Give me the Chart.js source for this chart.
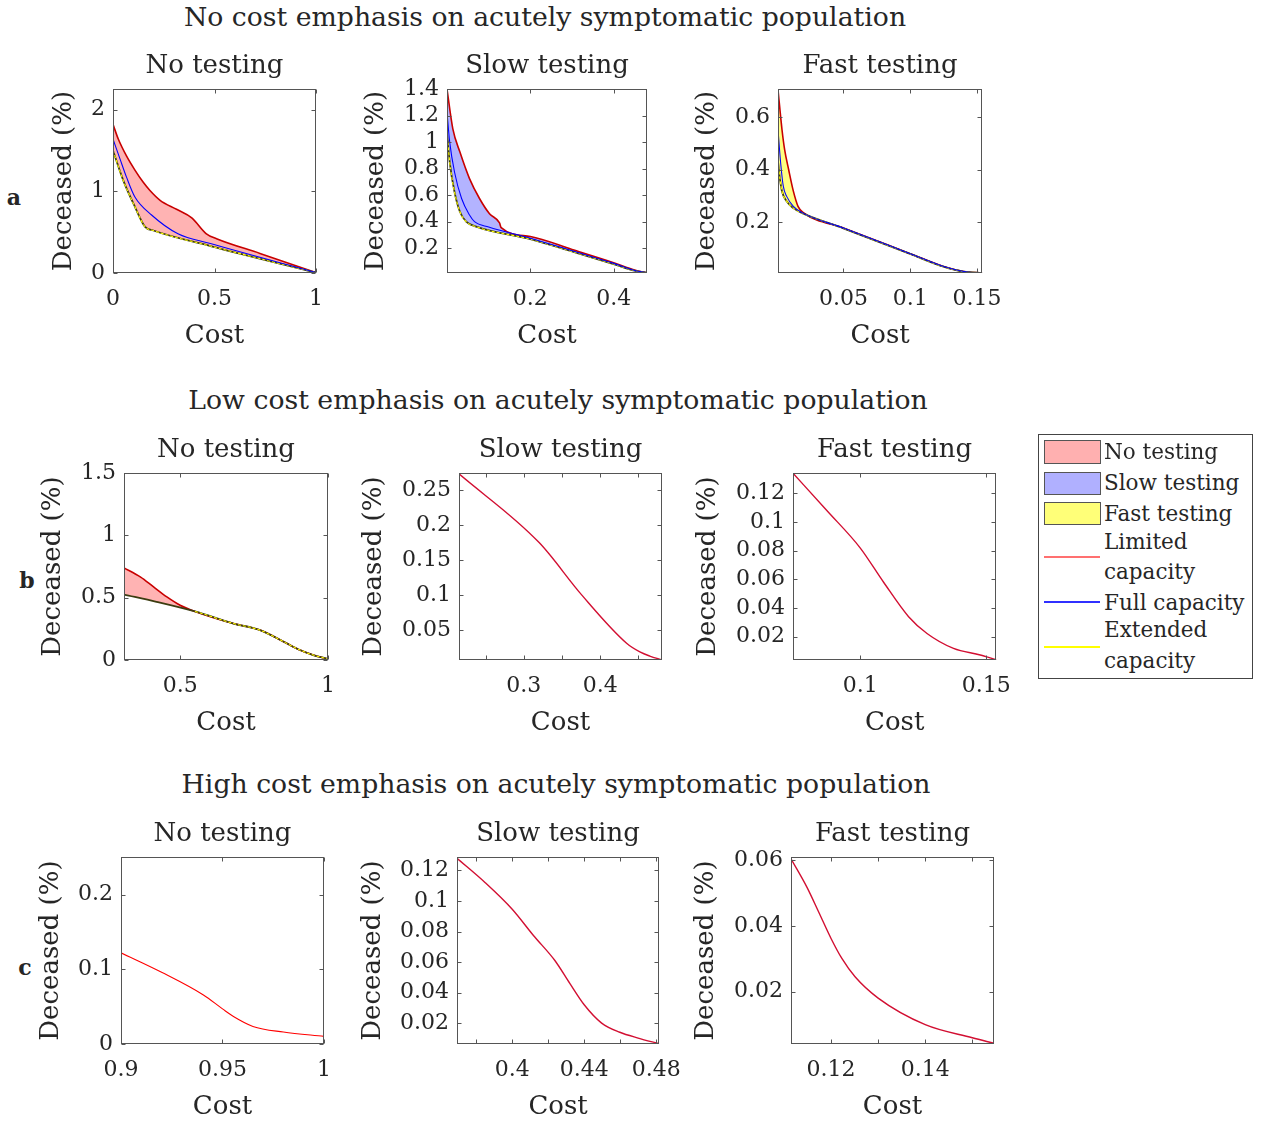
<!DOCTYPE html>
<html>
<head>
<meta charset="utf-8">
<script src="https://cdn.jsdelivr.net/npm/chart.js@4.4.0/dist/chart.umd.min.js"></script>
<style>
  body { margin: 0; background: #fff; width: 1261px; height: 1124px; position: relative; overflow: hidden;
         font-family: 'DejaVu Serif', serif; color: #262626; }
  canvas { position: absolute; }
  .t { position: absolute; transform: translate(-50%, -50%); white-space: nowrap; }
  .l { position: absolute; transform: translateY(-50%); white-space: nowrap; }
</style>
</head>
<body>
<script>
// ---- data: [cost, deceased %] ----
const a1Limited = [[0,1.82],[0.026,1.64],[0.067,1.43],[0.108,1.26],[0.149,1.11],[0.182,1.01],[0.232,0.89],[0.313,0.78],[0.388,0.675],[0.46,0.48],[0.51,0.42],[0.724,0.24],[1,0.005]];
const a1Full = [[0,1.64],[0.034,1.40],[0.067,1.17],[0.108,0.93],[0.19,0.71],[0.32,0.48],[0.48,0.36],[1,0.005]];
const a1Extended = [[0,1.5],[0.051,1.13],[0.108,0.81],[0.158,0.565],[0.199,0.52],[0.48,0.33],[1,0.005]];

const a2Limited = [[0,1.4],[0.014,1.10],[0.031,0.925],[0.054,0.725],[0.078,0.575],[0.102,0.46],[0.126,0.39],[0.13,0.355],[0.2,0.288],[0.3,0.19],[0.4,0.09],[0.45,0.035],[0.48,0.013]];
const a2Full = [[0,1.225],[0.0065,1.0],[0.018,0.775],[0.035,0.575],[0.054,0.45],[0.066,0.40],[0.1,0.36],[0.2,0.275],[0.3,0.18],[0.4,0.085],[0.45,0.032],[0.48,0.013]];
const a2Extended = [[0,1.075],[0.0065,0.85],[0.018,0.625],[0.031,0.475],[0.046,0.40],[0.07,0.362],[0.2,0.268],[0.3,0.175],[0.4,0.08],[0.45,0.03],[0.48,0.013]];

const a3Limited = [[0.001,0.706],[0.004,0.553],[0.006,0.476],[0.009,0.40],[0.0125,0.318],[0.016,0.26],[0.02,0.236],[0.05,0.177],[0.1,0.079],[0.125,0.03],[0.14,0.011],[0.154,0.005]];
const a3Full = [[0.001,0.553],[0.003,0.425],[0.005,0.336],[0.0075,0.298],[0.0125,0.26],[0.02,0.233],[0.05,0.177],[0.1,0.079],[0.125,0.03],[0.14,0.011],[0.154,0.005]];
const a3Extended = [[0.001,0.432],[0.0025,0.362],[0.004,0.317],[0.0075,0.279],[0.0125,0.253],[0.02,0.232],[0.05,0.176],[0.1,0.078],[0.125,0.029],[0.14,0.01],[0.154,0.005]];

const b1Limited = [[0.31,0.74],[0.365,0.667],[0.41,0.587],[0.455,0.507],[0.5,0.44],[0.55,0.39],[0.68,0.293],[0.77,0.24],[0.85,0.147],[0.905,0.08],[0.95,0.04],[1,0.008]];
const b1Extended = [[0.31,0.525],[0.42,0.467],[0.55,0.39],[0.68,0.293],[0.77,0.24],[0.85,0.147],[0.905,0.08],[0.95,0.04],[1,0.008]];
const b2Limited = [[0.215,0.273],[0.32,0.175],[0.376,0.1],[0.435,0.031],[0.452,0.019],[0.465,0.013],[0.481,0.0075]];
const b3Limited = [[0.0734,0.134],[0.0868,0.108],[0.1,0.082],[0.1093,0.058],[0.1192,0.034],[0.1265,0.0223],[0.137,0.0119],[0.1476,0.0073],[0.154,0.004]];

const c1Limited = [[0.9,0.122],[0.92,0.096],[0.9406,0.0656],[0.95,0.047],[0.9554,0.0368],[0.965,0.0235],[0.98,0.016],[1,0.0102]];
const c2Limited = [[0.3693,0.128],[0.385,0.112],[0.4,0.0946],[0.4118,0.0774],[0.4237,0.061],[0.432,0.046],[0.44,0.032],[0.4497,0.02],[0.4598,0.014],[0.47,0.0102],[0.4817,0.0065]];
const c3Limited = [[0.1115,0.0605],[0.1149,0.0518],[0.1174,0.0442],[0.12,0.0362],[0.1223,0.0301],[0.1251,0.0245],[0.13,0.018],[0.14,0.0099],[0.15,0.0059],[0.1546,0.0042]];

// ticks
const a1XTicks = [0, 0.5, 1], a1YTicks = [0, 1, 2];
const a2XTicks = [0.2, 0.4], a2YTicks = [0.2, 0.4, 0.6, 0.8, 1, 1.2, 1.4];
const a3XTicks = [0.05, 0.1, 0.15], a3YTicks = [0.2, 0.4, 0.6];
const b1XTicks = [0.5, 1], b1YTicks = [0, 0.5, 1, 1.5];
const b2XTicks = [0.25, 0.3, 0.35, 0.4, 0.45], b2XLabels = [0.3, 0.4], b2YTicks = [0.05, 0.1, 0.15, 0.2, 0.25];
const b3XTicks = [0.1, 0.15], b3YTicks = [0.02, 0.04, 0.06, 0.08, 0.1, 0.12];
const c1XTicks = [0.9, 0.95, 1], c1YTicks = [0, 0.1, 0.2];
const c2XTicks = [0.38, 0.4, 0.42, 0.44, 0.46, 0.48], c2XLabels = [0.4, 0.44, 0.48], c2YTicks = [0.02, 0.04, 0.06, 0.08, 0.1, 0.12];
const c3XTicks = [0.12, 0.13, 0.14, 0.15], c3XLabels = [0.12, 0.14], c3YTicks = [0.02, 0.04, 0.06];

const rowTitles = ['No cost emphasis on acutely symptomatic population',
                   'Low cost emphasis on acutely symptomatic population',
                   'High cost emphasis on acutely symptomatic population'];
const panelTitles = ['No testing', 'Slow testing', 'Fast testing'];
const rowLetters = ['a', 'b', 'c'];
const legendFills = ['No testing', 'Slow testing', 'Fast testing'];
const legendLines = [['Limited', 'capacity'], ['Full capacity'], ['Extended', 'capacity']];

const serif = 'DejaVu Serif';
const ink = '#262626';
const pink = '#ffb3b3', lilac = '#b3b3ff', lemon = '#ffff80';
const X_AXIS_H = 79, PAD_TOP = 12, PAD_RIGHT = 24;

const panels = [
  {plot: [113, 89, 316, 273], x: [0, 1], y: [0, 2.25], xTicks: a1XTicks, yTicks: a1YTicks, yOff: 50,
   limited: a1Limited, full: a1Full, extended: a1Extended, fill: pink, title: 0},
  {plot: [447, 89, 647, 273], x: [0, 0.48], y: [0.0125, 1.4], xTicks: a2XTicks, yTicks: a2YTicks, yOff: 72,
   limited: a2Limited, full: a2Full, extended: a2Extended, fill: lilac, title: 1},
  {plot: [778, 89, 982, 273], x: [0.001, 0.154], y: [0.005, 0.708], xTicks: a3XTicks, yTicks: a3YTicks, yOff: 72,
   limited: a3Limited, full: a3Full, extended: a3Extended, fill: lemon, title: 2},
  {plot: [124, 473, 328, 660], x: [0.31, 1], y: [0, 1.5], xTicks: b1XTicks, yTicks: b1YTicks, yOff: 72,
   limited: b1Limited, extended: b1Extended, fill: pink, yellowFrom: 0.45, title: 0},
  {plot: [459, 473, 662, 660], x: [0.215, 0.481], y: [0.0074, 0.274], xTicks: b2XTicks, xLabels: b2XLabels, yTicks: b2YTicks, yOff: 86,
   limited: b2Limited, title: 1},
  {plot: [793, 473, 996, 660], x: [0.0734, 0.154], y: [0.0038, 0.134], xTicks: b3XTicks, yTicks: b3YTicks, yOff: 86,
   limited: b3Limited, title: 2},
  {plot: [121, 857, 324, 1044], x: [0.9, 1], y: [0, 0.25], xTicks: c1XTicks, yTicks: c1YTicks, yOff: 71,
   limited: c1Limited, lineColor: '#ff0000', title: 0},
  {plot: [457, 857, 659, 1044], x: [0.3693, 0.4817], y: [0.0063, 0.1287], xTicks: c2XTicks, xLabels: c2XLabels, yTicks: c2YTicks, yOff: 85,
   limited: c2Limited, title: 1},
  {plot: [791, 857, 994, 1044], x: [0.1115, 0.1546], y: [0.004, 0.061], xTicks: c3XTicks, xLabels: c3XLabels, yTicks: c3YTicks, yOff: 86,
   limited: c3Limited, title: 2}
];

function addText(text, x, y, size, cls, extra) {
  const d = document.createElement('div');
  d.className = cls || 't';
  d.textContent = text;
  d.style.left = x + 'px';
  d.style.top = y + 'px';
  d.style.fontSize = size + 'px';
  if (extra) Object.assign(d.style, extra);
  document.body.appendChild(d);
  return d;
}

// box with inward tick marks on all four sides, like the original axes
const frame = {
  id: 'frame',
  afterDraw(chart) {
    const {ctx, chartArea: a, scales: {x, y}} = chart;
    const L = Math.round(a.left) + 0.5, R = Math.round(a.right) - 0.5;
    const T = Math.round(a.top) + 0.5, B = Math.round(a.bottom) - 0.5;
    ctx.save();
    ctx.strokeStyle = '#555';
    ctx.lineWidth = 1;
    ctx.strokeRect(L, T, R - L, B - T);
    ctx.beginPath();
    x.ticks.forEach(t => {
      const px = Math.round(x.getPixelForValue(t.value)) + 0.5;
      ctx.moveTo(px, B); ctx.lineTo(px, B - 4);
      ctx.moveTo(px, T); ctx.lineTo(px, T + 4);
    });
    y.ticks.forEach(t => {
      const py = Math.round(y.getPixelForValue(t.value)) + 0.5;
      ctx.moveTo(L, py); ctx.lineTo(L + 4, py);
      ctx.moveTo(R, py); ctx.lineTo(R - 4, py);
    });
    ctx.stroke();
    ctx.restore();
  }
};

const pts = arr => arr.map(([x, y]) => ({x, y}));

function datasetsFor(p) {
  if (!p.extended) {
    return [{data: pts(p.limited), borderColor: p.lineColor || '#d20f32', borderWidth: p.lineColor ? 1.1 : 1.4, fill: false}];
  }
  const list = [
    {data: pts(p.limited), borderColor: '#c80000', borderWidth: 1.6, fill: 1, backgroundColor: p.fill, order: 5},
    {data: pts(p.extended), borderColor: '#3c3c10', borderWidth: 1.8, fill: false, order: 4},
    {data: pts(p.extended), borderColor: '#ffff00', borderWidth: 1.1, borderDash: [3, 2], fill: false, order: 3,
     segment: {borderColor: c => (p.yellowFrom && c.p0.parsed.x < p.yellowFrom) ? 'rgba(0,0,0,0)' : '#ffff00'}}
  ];
  if (p.full) list.push({data: pts(p.full), borderColor: '#0000ff', borderWidth: 1.1, fill: false, order: 2});
  return list;
}

function configFor(p, axisW) {
  const xLabels = p.xLabels || p.xTicks;
  return {
    type: 'line',
    data: {datasets: datasetsFor(p)},
    options: {
      responsive: false,
      maintainAspectRatio: false,
      animation: false,
      devicePixelRatio: 1,
      layout: {padding: {top: PAD_TOP, right: PAD_RIGHT, left: 0, bottom: 0}},
      elements: {point: {radius: 0}, line: {cubicInterpolationMode: 'monotone'}},
      plugins: {legend: {display: false}, tooltip: {enabled: false}},
      scales: {
        x: {
          type: 'linear', min: p.x[0], max: p.x[1],
          afterBuildTicks: s => { s.ticks = p.xTicks.map(v => ({value: v})); },
          afterFit: s => { s.height = X_AXIS_H; },
          grid: {display: false, drawTicks: false}, border: {display: false},
          ticks: {autoSkip: false, maxRotation: 0, padding: 13, color: ink, font: {family: serif, size: 22},
                  callback: v => xLabels.includes(v) ? String(v) : ''},
          title: {display: true, text: 'Cost', color: ink, font: {family: serif, size: 26}, padding: 0}
        },
        y: {
          type: 'linear', min: p.y[0], max: p.y[1],
          afterBuildTicks: s => { s.ticks = p.yTicks.map(v => ({value: v})); },
          afterFit: s => { s.width = axisW; },
          grid: {display: false, drawTicks: false}, border: {display: false},
          ticks: {autoSkip: false, padding: 8, color: ink, font: {family: serif, size: 22},
                  callback: v => String(v)},
          title: {display: true, text: 'Deceased (%)', color: ink, font: {family: serif, size: 26}, padding: 0}
        }
      }
    },
    plugins: [frame]
  };
}

panels.forEach(p => {
  const [l, t, r, b] = p.plot;
  const axisW = p.yOff + 14;
  const cv = document.createElement('canvas');
  let w = axisW + (r - l) + PAD_RIGHT, h = PAD_TOP + (b - t) + X_AXIS_H;
  cv.width = w; cv.height = h;
  document.body.appendChild(cv);

  // first pass: see how much room the layout leaves, then grow the canvas so the plot box matches
  let chart = new Chart(cv, configFor(p, axisW));
  const ca = chart.chartArea;
  w += (r - l) - (ca.right - ca.left);
  h += (b - t) - (ca.bottom - ca.top);
  chart.destroy();
  cv.width = Math.round(w); cv.height = Math.round(h);
  cv.style.width = cv.width + 'px'; cv.style.height = cv.height + 'px';
  chart = new Chart(cv, configFor(p, axisW));
  cv.style.left = Math.round(l - chart.chartArea.left) + 'px';
  cv.style.top = Math.round(t - chart.chartArea.top) + 'px';

  addText(panelTitles[p.title], (l + r) / 2, t - 25, 26);
});

// row headings and panel letters
[[545, 16], [558, 399], [556, 783]].forEach(([x, y], i) => addText(rowTitles[i], x, y, 26.7));
[[14, 197], [27, 580], [25, 967]].forEach(([x, y], i) => addText(rowLetters[i], x, y, 22, 't', {fontWeight: 'bold'}));

// legend
const box = document.createElement('div');
Object.assign(box.style, {position: 'absolute', left: '1038px', top: '434px', width: '213px', height: '243px',
  border: '1px solid #444', background: '#fff'});
document.body.appendChild(box);
const swatchColors = ['#ffb0b0', '#b0b0ff', '#ffff78'];
[[440, 463], [472, 494], [502, 524]].forEach(([y0, y1], i) => {
  const s = document.createElement('div');
  Object.assign(s.style, {position: 'absolute', left: '1044px', top: y0 + 'px', width: '55px', height: (y1 - y0 - 1) + 'px',
    background: swatchColors[i], border: '1px solid #555'});
  document.body.appendChild(s);
  addText(legendFills[i], 1104, [451, 482, 513][i], 21.5, 'l');
});
const lineColors = ['#ff7070', '#3030ff', '#ffff00'];
[557, 602, 647].forEach((y, i) => {
  const s = document.createElement('div');
  Object.assign(s.style, {position: 'absolute', left: '1044px', top: (y - 1) + 'px', width: '56px', height: '2px', background: lineColors[i]});
  document.body.appendChild(s);
});
[[541, 571], [602], [629, 660]].forEach((ys, i) => ys.forEach((y, k) => addText(legendLines[i][k], 1104, y, 21.5, 'l')));
</script>
</body>
</html>
